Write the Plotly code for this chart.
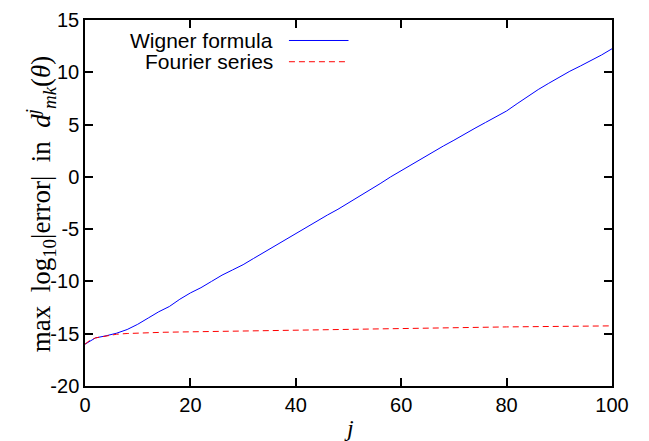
import plotly.graph_objects as go

# ---- data ----
j_wigner = list(range(0, 101, 2))
wigner = [-16.0, -15.4, -15.2, -14.95, -14.6, -14.1, -13.5, -12.9, -12.4, -11.7,
          -11.1, -10.6, -10.0, -9.4, -8.9, -8.4, -7.8, -7.2, -6.6, -6.0,
          -5.4, -4.85, -4.2, -3.65, -3.1, -2.5, -1.85, -1.25, -0.65, 0.0,
          0.6, 1.2, 1.8, 2.4, 2.95, 3.5, 4.1, 4.65, 5.2, 5.75,
          6.3, 7.0, 7.7, 8.35, 8.95, 9.55, 10.1, 10.6, 11.1, 11.65, 12.25]

j_fourier = [0, 1, 2, 3, 4, 6, 8, 10, 15, 20, 30, 40, 50, 60, 70, 80, 90, 100]
fourier = [-16.0, -15.6, -15.4, -15.3, -15.2, -15.05, -14.98, -14.93, -14.86, -14.82,
           -14.74, -14.63, -14.53, -14.47, -14.41, -14.35, -14.3, -14.25]

x_ticks = [0, 20, 40, 60, 80, 100]
y_ticks = [-20, -15, -10, -5, 0, 5, 10, 15]

legend_labels = ["Wigner formula", "Fourier series"]

fig = go.Figure()
fig.add_trace(go.Scatter(x=j_wigner, y=wigner, mode="lines", name=legend_labels[0],
                         line=dict(color="#0000ff", width=1), showlegend=False))
fig.add_trace(go.Scatter(x=j_fourier, y=fourier, mode="lines", name=legend_labels[1],
                         line=dict(color="#ff0000", width=1, dash="6px,4px"), showlegend=False))

sans = "Liberation Sans, Arial, sans-serif"
axis_common = dict(showline=True, linecolor="black", linewidth=1.5, mirror="allticks",
                   ticks="inside", ticklen=8, tickwidth=1.5, tickcolor="black",
                   showgrid=False, zeroline=False, automargin=False,
                   tickfont=dict(family=sans, size=20, color="black"))

fig.update_xaxes(range=[0, 100], tickvals=x_ticks, ticktext=[str(v) for v in x_ticks], **axis_common)
fig.update_yaxes(range=[-20, 15], tickvals=y_ticks, ticktext=[str(v) for v in y_ticks], **axis_common)

serif = "Liberation Serif, DejaVu Serif, serif"
y_title = ("max\u2002log<sub>10</sub>|error|\u2002in\u2002"
           "<i>d</i><sup><i>j</i></sup><sub><i>mk</i></sub>(<i>θ</i>)")
annotations = [
    dict(text=y_title,
         xref="paper", yref="paper", x=-0.083, y=0.497, textangle=-90, showarrow=False,
         xanchor="center", yanchor="middle", font=dict(family=serif, size=27, color="black")),
    dict(text="<i>j</i>", xref="paper", yref="paper", x=0.5, y=-0.115, showarrow=False,
         xanchor="center", yanchor="middle", font=dict(family=serif, size=24, color="black")),
]
# legend (gnuplot style: text right-aligned, sample to the right)
leg_y = [0.944, 0.886]
for lab, yy in zip(legend_labels, leg_y):
    annotations.append(dict(text=lab, xref="paper", yref="paper", x=0.36, y=yy, showarrow=False,
                            xanchor="right", yanchor="middle",
                            font=dict(family=sans, size=21, color="black")))

shapes = [
    dict(type="line", xref="paper", yref="paper", x0=0.387, x1=0.5, y0=leg_y[0], y1=leg_y[0],
         line=dict(color="#0000ff", width=1)),
    dict(type="line", xref="paper", yref="paper", x0=0.387, x1=0.5, y0=leg_y[1], y1=leg_y[1],
         line=dict(color="#ff0000", width=1, dash="6px,4px")),
]

# page body has an 8px margin, so the figure is shifted; compensate in margins
fig.update_layout(width=641, height=433, margin=dict(l=77, r=37, t=12, b=55),
                  plot_bgcolor="white", paper_bgcolor="white",
                  annotations=annotations, shapes=shapes, showlegend=False)

fig.write_html("out.html")
